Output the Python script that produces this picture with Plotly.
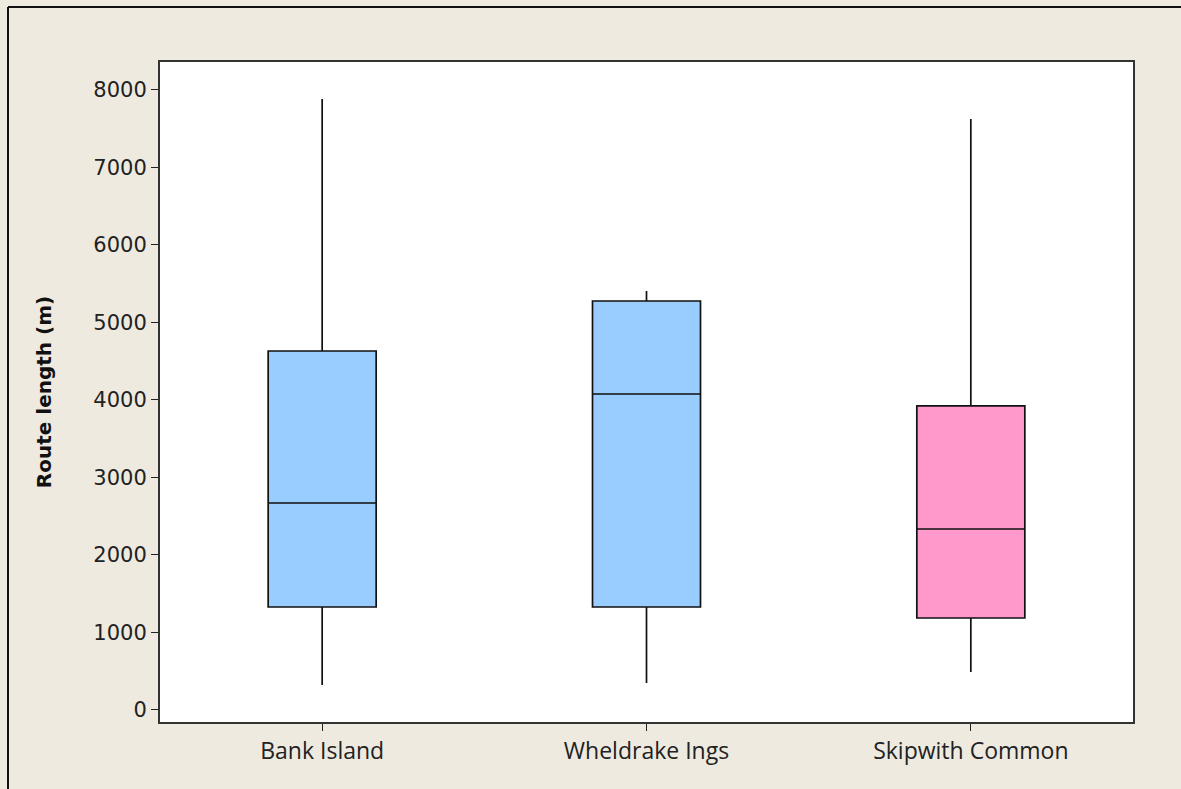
import plotly.graph_objects as go

categories = ["Bank Island", "Wheldrake Ings", "Skipwith Common"]
lower_whisker = [323, 348, 490]
q1_values = [1329, 1329, 1187]
medians = [2671, 4077, 2335]
q3_values = [4632, 5277, 3923]
upper_whisker = [7884, 5406, 7626]
fill_colors = ["#99CCFF", "#99CCFF", "#FF99CC"]
y_ticks = [0, 1000, 2000, 3000, 4000, 5000, 6000, 7000, 8000]

fig = go.Figure()
for i, cat in enumerate(categories):
    fig.add_trace(go.Box(
        x=[cat],
        q1=[q1_values[i]], median=[medians[i]], q3=[q3_values[i]],
        lowerfence=[lower_whisker[i]], upperfence=[upper_whisker[i]],
        fillcolor=fill_colors[i],
        line=dict(color="#111111", width=1.7),
        whiskerwidth=0,
        width=0.333,
        boxpoints=False,
        showlegend=False,
        hoverinfo="skip",
    ))

W0, H0 = 1181, 789
L, R, T, B = 160, 1133, 62, 722
pw, ph = R - L, B - T
def px(x): return (x - L) / pw
def py(y): return (B - y) / ph

fig.update_layout(
    width=W0, height=H0,
    margin=dict(l=L, r=W0 - R, t=T, b=H0 - B),
    paper_bgcolor="#EEEAE0",
    plot_bgcolor="#FFFFFF",
    boxmode="overlay",
    font=dict(family="DejaVu Sans", color="#111111"),
    xaxis=dict(
        type="category", categoryarray=categories, range=[-0.5, 2.5],
        showline=True, mirror=True, linecolor="#333333", linewidth=2,
        ticks="outside", ticklen=7, tickcolor="#222222",
        tickfont=dict(family="Open Sans", size=23, color="#222222"),
        showgrid=False, zeroline=False,
    ),
    yaxis=dict(
        range=[-155, 8361], tickvals=y_ticks,
        showline=True, mirror=True, linecolor="#333333", linewidth=2,
        ticks="outside", ticklen=7, tickcolor="#222222",
        tickfont=dict(family="DejaVu Sans", size=21, color="#222222"),
        showgrid=False, zeroline=False,
        title=dict(text="<b>Route length (m)</b>", font=dict(family="DejaVu Sans", size=20, color="#111111"), standoff=36),
    ),
    shapes=[
        dict(type="line", xref="paper", yref="paper", x0=px(8), x1=px(1181), y0=py(7), y1=py(7),
             line=dict(color="#111111", width=2)),
        dict(type="line", xref="paper", yref="paper", x0=px(8), x1=px(8), y0=py(7), y1=py(789),
             line=dict(color="#111111", width=2)),
    ],
)

fig.write_html("out.html", config={"displayModeBar": False},
               post_script="document.body.style.margin='0';document.body.style.padding='0';")
